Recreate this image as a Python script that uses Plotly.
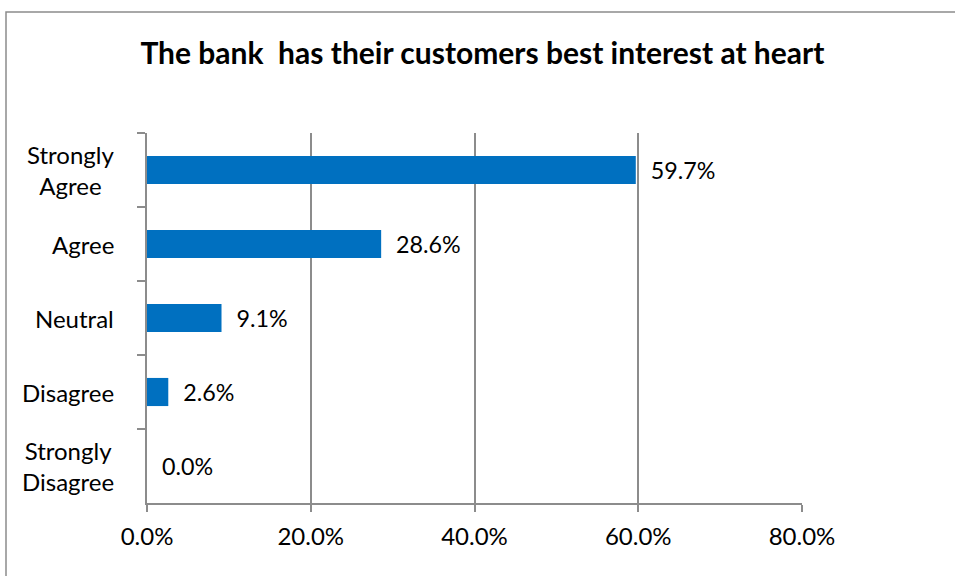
import plotly.graph_objects as go

# Survey responses
categories = ["Strongly Agree", "Agree", "Neutral", "Disagree", "Strongly Disagree"]
category_labels = ["Strongly<br>Agree", "Agree", "Neutral", "Disagree", "Strongly<br>Disagree"]
shares = [0.597, 0.286, 0.091, 0.026, 0.0]
x_ticks = [0.0, 0.2, 0.4, 0.6, 0.8]
x_tick_labels = ["0.0%", "20.0%", "40.0%", "60.0%", "80.0%"]

FONT = "Lato, 'Open Sans', sans-serif"
GRID = "#8c8c8c"
BAR = "#0070C0"

W, H = 955, 576
L, R, T, B = 147, 153, 133, 73

fig = go.Figure(
    go.Bar(
        x=shares,
        y=categories,
        orientation="h",
        marker=dict(color=BAR, line=dict(width=0)),
        text=["\u00a0\u00a0" + f"{v * 100:.1f}%" for v in shares],
        textposition="outside",
        textfont=dict(family=FONT, size=24, color="#000000"),
        cliponaxis=False,
        hoverinfo="skip",
    )
)

# Category labels, right-aligned as blocks with centered lines
for cat, lab in zip(categories, category_labels):
    fig.add_annotation(
        x=(116 - L) / (W - L - R), xref="paper",
        y=cat, yref="y",
        text=lab, showarrow=False,
        xanchor="right", yanchor="middle", align="center",
        font=dict(family=FONT, size=24, color="#000000"),
    )

fig.update_layout(
    width=W, height=H,
    margin=dict(l=L, r=R, t=T, b=B, pad=0),
    paper_bgcolor="white",
    plot_bgcolor="white",
    bargap=0.62,
    showlegend=False,
    title=dict(
        text="<b>The bank  has their customers best interest at heart</b>",
        x=(489) / W, xanchor="center", xref="paper",
        y=1 - 53 / H, yanchor="middle", yref="container",
        font=dict(family=FONT, size=30, color="#000000"),
    ),
    xaxis=dict(
        range=[0, 0.8],
        tickvals=x_ticks,
        ticktext=x_tick_labels,
        showgrid=True, gridcolor=GRID, gridwidth=1.5,
        zeroline=False,
        showline=True, linecolor=GRID, linewidth=1.5,
        ticks="outside", ticklen=7, tickcolor=GRID, tickwidth=1.5,
        ticklabelstandoff=4,
        tickfont=dict(family=FONT, size=24, color="#000000"),
        fixedrange=True,
    ),
    yaxis=dict(
        categoryorder="array",
        categoryarray=categories,
        autorange="reversed",
        showticklabels=False,
        tickson="boundaries",
        ticks="outside", ticklen=8, tickcolor=GRID, tickwidth=1.5,
        showgrid=False,
        showline=True, linecolor=GRID, linewidth=1.5,
        fixedrange=True,
    ),
    shapes=[
        dict(
            type="rect", xref="paper", yref="paper",
            x0=(6 - L) / (W - L - R), x1=(W + 20 - L) / (W - L - R),
            y0=-(B + 20) / (H - T - B), y1=1 + (T - 12) / (H - T - B),
            line=dict(color="#8c8c8c", width=1.5),
            fillcolor="rgba(0,0,0,0)",
            layer="below",
        )
    ],
)

fig.write_html("out.html")
